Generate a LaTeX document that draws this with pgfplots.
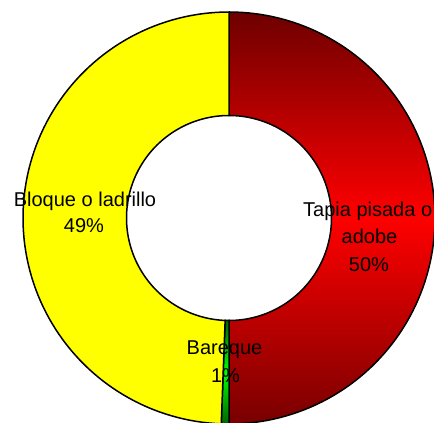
\documentclass[border=0pt]{standalone}
\usepackage{pgfplots}
\usepackage{pgfplotstable}
\pgfplotsset{compat=1.18}
\usepackage{fontspec}
\setmainfont{Liberation Sans}

\pgfplotstableread{
slice value
Tapia 50.0
Bareque 0.6
Bloque 49.4
}\donutdata

\pgfplotstablegetelem{0}{value}\of\donutdata \let\vA\pgfplotsretval
\pgfplotstablegetelem{1}{value}\of\donutdata \let\vB\pgfplotsretval
\pgfplotstablegetelem{2}{value}\of\donutdata \let\vC\pgfplotsretval

\def\cx{229}
\def\cy{205}
\def\Ro{206}
\def\Ri{102.5}

% annular sector: #1 start angle, #2 signed sweep, #3 style
\newcommand{\donutslice}[3]{%
\addplot[#3, domain=0:4, samples=401, variable=\t]
 ({\cx+(\t<1 ? \Ro : (\t<2 ? \Ro-(\t-1)*(\Ro-\Ri) : (\t<3 ? \Ri : \Ri+(\t-3)*(\Ro-\Ri))))*cos(\t<1 ? #1+\t*(#2) : (\t<2 ? #1+(#2) : (\t<3 ? #1+(#2)-(\t-2)*(#2) : #1)))},
  {\cy+(\t<1 ? \Ro : (\t<2 ? \Ro-(\t-1)*(\Ro-\Ri) : (\t<3 ? \Ri : \Ri+(\t-3)*(\Ro-\Ri))))*sin(\t<1 ? #1+\t*(#2) : (\t<2 ? #1+(#2) : (\t<3 ? #1+(#2)-(\t-2)*(#2) : #1)))});
}

\definecolor{darkred1}{RGB}{110,0,0}
\definecolor{darkred2}{RGB}{120,0,0}
\definecolor{brightred}{RGB}{255,0,0}
\definecolor{ylw}{RGB}{255,255,0}
\definecolor{dgreen}{RGB}{0,100,0}
\definecolor{bgreen}{RGB}{0,255,0}

\begin{document}
\begin{tikzpicture}
\pgfmathsetmacro{\aA}{90}
\pgfmathsetmacro{\dA}{-3.6*\vA}
\pgfmathsetmacro{\aB}{\aA+\dA}
\pgfmathsetmacro{\dB}{-3.6*\vB}
\pgfmathsetmacro{\aC}{\aB+\dB}
\pgfmathsetmacro{\dC}{-3.6*\vC}
\begin{axis}[
  scale only axis, width=434pt, height=423pt,
  xmin=0, xmax=434, ymin=0, ymax=423,
  hide axis, clip=true,
]
\donutslice{\aA}{\dA}{draw=black, line width=1.5pt, top color=darkred1, bottom color=darkred2, middle color=brightred}
\donutslice{\aB}{\dB}{draw=black, line width=1.5pt, top color=dgreen, bottom color=dgreen, middle color=bgreen}
\donutslice{\aC}{\dC}{draw=black, line width=1.5pt, fill=ylw}

\begin{scope}[every node/.style={font=\fontsize{20}{24}\selectfont, text=black, inner sep=0pt}]
\node[anchor=base] at (axis cs:85,216) {Bloque o ladrillo};
\node[anchor=base] at (axis cs:84,190) {49\%};
\node[anchor=base west] at (axis cs:303,206) {Tapia pisada o};
\node[anchor=base] at (axis cs:369.5,179) {adobe};
\node[anchor=base] at (axis cs:369,151) {50\%};
\node[anchor=base] at (axis cs:224.5,68) {Bareque};
\node[anchor=base] at (axis cs:225.5,40) {1\%};
\end{scope}
\end{axis}
\pgfresetboundingbox
\path (current axis.south west) rectangle (current axis.north east);
\end{tikzpicture}
\end{document}
